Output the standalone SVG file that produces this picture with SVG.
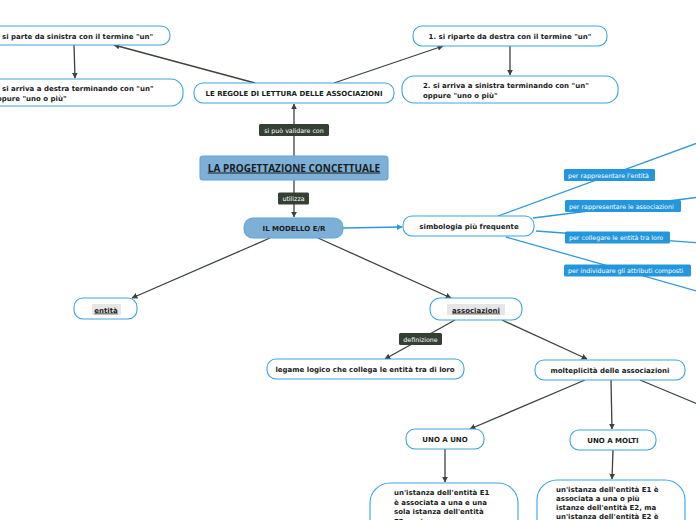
<svg xmlns="http://www.w3.org/2000/svg" width="696" height="520" viewBox="0 0 696 520">
<defs>
<marker id="ad" viewBox="0 0 10 10" refX="9" refY="5" markerWidth="6" markerHeight="6" orient="auto-start-reverse" markerUnits="userSpaceOnUse"><path d="M0,0 L10,5 L0,10 z" fill="#3b433b"/></marker>
<marker id="ab" viewBox="0 0 10 10" refX="9" refY="5" markerWidth="6" markerHeight="6" orient="auto" markerUnits="userSpaceOnUse"><path d="M0,0 L10,5 L0,10 z" fill="#2f97dc"/></marker>
<style>
.n{fill:#fff;stroke:#3ba3e6;stroke-width:1.1}
.f{fill:#7eb0d7;stroke:#5ea6dd;stroke-width:1.1}
.t{font-family:"DejaVu Sans",Verdana,sans-serif;font-weight:bold;font-size:7px;fill:#1b1b1b}
.c{text-anchor:middle}
.d{stroke:#3b433b;stroke-width:1.3;fill:none}
.b{stroke:#2f97dc;stroke-width:1.3;fill:none}
.dl{fill:#344034}
.bl{fill:#2497dc}
.lt{font-family:"DejaVu Sans",Verdana,sans-serif;font-size:6.3px;fill:#fff}
</style>
</defs>
<rect width="696" height="520" fill="#fff"/>
<g id="connectors">
<line class="d" x1="294" y1="156" x2="294" y2="104" marker-end="url(#ad)"/>
<line class="d" x1="294" y1="180" x2="294" y2="217" marker-end="url(#ad)"/>
<line class="d" x1="255" y1="83" x2="114" y2="45" marker-end="url(#ad)"/>
<line class="d" x1="74" y1="45" x2="75" y2="78" marker-end="url(#ad)"/>
<line class="d" x1="334" y1="83" x2="443" y2="46" marker-end="url(#ad)"/>
<line class="d" x1="510" y1="46" x2="510" y2="75" marker-end="url(#ad)"/>
<line class="d" x1="270" y1="238" x2="132" y2="298" marker-end="url(#ad)"/>
<line class="d" x1="318" y1="238" x2="451" y2="298" marker-end="url(#ad)"/>
<line class="d" x1="455" y1="320" x2="385" y2="359" marker-end="url(#ad)"/>
<line class="d" x1="502" y1="320" x2="587" y2="359" marker-end="url(#ad)"/>
<line class="d" x1="585" y1="380" x2="470" y2="429" marker-end="url(#ad)"/>
<line class="d" x1="611" y1="380" x2="612" y2="429" marker-end="url(#ad)"/>
<line class="d" x1="640" y1="380" x2="700" y2="405"/>
<line class="d" x1="445" y1="449" x2="445" y2="482" marker-end="url(#ad)"/>
<line class="d" x1="613" y1="450" x2="612" y2="479" marker-end="url(#ad)"/>
<line class="b" x1="343" y1="228" x2="402" y2="227" marker-end="url(#ab)"/>
<line class="b" x1="498" y1="216" x2="700" y2="142"/>
<line class="b" x1="533" y1="218" x2="700" y2="197"/>
<line class="b" x1="536" y1="231" x2="700" y2="243"/>
<line class="b" x1="506" y1="237" x2="700" y2="292"/>
<g id="lbl-validare"><rect class="dl" x="259" y="124" width="70" height="12" rx="1.5"/><text class="lt c" x="294" y="132.5">si può validare con</text></g>
<g id="lbl-utilizza"><rect class="dl" x="278" y="192.5" width="31" height="12" rx="1.5"/><text class="lt c" x="293.5" y="201">utilizza</text></g>
<g id="lbl-definizione"><rect class="dl" x="399" y="333" width="43" height="12" rx="1.5"/><text class="lt c" x="420.5" y="341.5">definizione</text></g>
<g id="lbl-entita"><rect class="bl" x="564" y="169" width="91" height="12" rx="1.5"/><text class="lt" x="568" y="177.5">per rappresentare l'entità</text></g>
<g id="lbl-assoc"><rect class="bl" x="565" y="200" width="116" height="12" rx="1.5"/><text class="lt" x="569" y="208.5">per rappresentare le associazioni</text></g>
<g id="lbl-collegare"><rect class="bl" x="565" y="231.5" width="105" height="12" rx="1.5"/><text class="lt" x="569" y="240">per collegare le entità tra loro</text></g>
<g id="lbl-attributi"><rect class="bl" x="564" y="264.5" width="127" height="12" rx="1.5"/><text class="lt" x="568" y="273">per individuare gli attributi composti</text></g>
</g>
<g id="n-sinistra"><rect class="n" x="-20" y="26" width="190" height="19" rx="9"/><text class="t" x="-8" y="38.5">1. si parte da sinistra con il termine "un"</text></g>
<g id="n-destra"><rect class="n" x="-20" y="79" width="203" height="27" rx="12"/><text class="t" x="-8" y="91">2. si arriva a destra terminando con "un"</text><text class="t" x="-8" y="100.5">oppure "uno o più"</text></g>
<g id="n-regole"><rect class="n" x="194" y="83" width="200" height="20" rx="9"/><text class="t c" x="294" y="96">LE REGOLE DI LETTURA DELLE ASSOCIAZIONI</text></g>
<g id="n-riparte"><rect class="n" x="413" y="26" width="194" height="20" rx="9"/><text class="t c" x="510" y="39">1. si riparte da destra con il termine "un"</text></g>
<g id="n-sinistra2"><rect class="n" x="402" y="76" width="216" height="27" rx="12"/><text class="t" x="423" y="88">2. si arriva a sinistra terminando con "un"</text><text class="t" x="423" y="97.5">oppure "uno o più"</text></g>
<g id="n-progettazione"><rect class="f" x="200" y="156" width="188" height="24" rx="3"/><text x="294" y="171.5" text-anchor="middle" font-family="'Open Sans','Liberation Sans',sans-serif" font-weight="bold" font-size="10px" fill="#1b1b1b" text-decoration="underline">LA PROGETTAZIONE CONCETTUALE</text></g>
<g id="n-modello"><rect class="f" x="244" y="218" width="99" height="20" rx="9"/><text class="t c" x="294" y="231">IL MODELLO E/R</text></g>
<g id="n-simbologia"><rect class="n" x="403" y="216" width="131" height="20" rx="9"/><text class="t c" x="469" y="229">simbologia più frequente</text></g>
<g id="n-entita"><rect class="n" x="74" y="298" width="63" height="21" rx="9"/><rect x="92" y="304" width="29" height="11" fill="#e6e6e6"/><text class="t c" x="106" y="312.5" font-size="9px" text-decoration="underline">entità</text></g>
<g id="n-associazioni"><rect class="n" x="430" y="298" width="92" height="22" rx="10"/><rect x="447" y="304" width="58" height="11" fill="#e6e6e6"/><text class="t c" x="476" y="312.5" font-size="9px" text-decoration="underline">associazioni</text></g>
<g id="n-legame"><rect class="n" x="267" y="359" width="197" height="20" rx="9"/><text class="t c" x="365" y="372">legame logico che collega le entità tra di loro</text></g>
<g id="n-molteplicita"><rect class="n" x="535" y="360" width="150" height="20" rx="9"/><text class="t c" x="610" y="373">molteplicità delle associazioni</text></g>
<g id="n-unouno"><rect class="n" x="406" y="429" width="78" height="20" rx="9"/><text class="t c" x="445" y="442">UNO A UNO</text></g>
<g id="n-unomolti"><rect class="n" x="570" y="430" width="86" height="20" rx="9"/><text class="t c" x="613" y="443">UNO A MOLTI</text></g>
<g id="n-def-unouno"><rect class="n" x="370" y="483" width="148" height="60" rx="20"/><text class="t" x="394" y="495">un'istanza dell'entità E1</text><text class="t" x="394" y="504.5">è associata a una e una</text><text class="t" x="394" y="514">sola istanza dell'entità</text><text class="t" x="394" y="523.5">E2, e viceversa</text></g>
<g id="n-def-unomolti"><rect class="n" x="537" y="480" width="148" height="60" rx="20"/><text class="t" x="556" y="492">un'istanza dell'entità E1 è</text><text class="t" x="556" y="501">associata a una o più</text><text class="t" x="556" y="510">istanze dell'entità E2, ma</text><text class="t" x="556" y="519">un'istanza dell'entità E2 è</text></g>
</svg>
